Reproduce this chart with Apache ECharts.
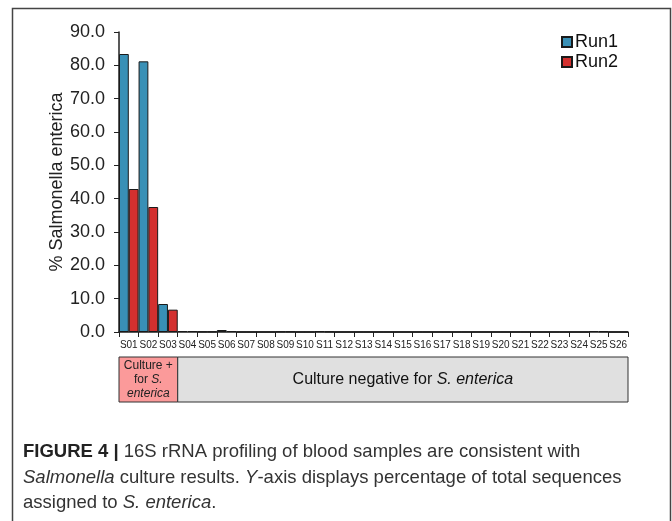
<!DOCTYPE html>
<html>
<head>
<meta charset="utf-8">
<script src="https://cdn.jsdelivr.net/npm/echarts@6/dist/echarts.min.js"></script>
<style>
html,body{margin:0;padding:0;background:#fff;}
#chart{width:672px;height:521px;}
</style>
</head>
<body>
<div id="chart"></div>
<script>
var categories = ['S01','S02','S03','S04','S05','S06','S07','S08','S09','S10','S11','S12','S13','S14','S15','S16','S17','S18','S19','S20','S21','S22','S23','S24','S25','S26'];
var run1 = [83.4, 81.2, 8.4, 0.3, 0.1, 0.6, 0, 0, 0.1, 0, 0.2, 0, 0, 0, 0, 0, 0, 0, 0, 0, 0, 0, 0, 0, 0.3, 0];
var run2 = [42.9, 37.5, 6.7, 0.3, 0.1, 0.3, 0, 0, 0.1, 0, 0.1, 0, 0, 0, 0, 0, 0, 0, 0, 0, 0, 0, 0, 0, 0.2, 0];
var yTicks = [0, 10, 20, 30, 40, 50, 60, 70, 80, 90];
var seriesNames = ['Run1', 'Run2'];
var positiveCount = 3;

var FONT = '"Liberation Sans", Arial, Helvetica, sans-serif';
var chart = echarts.init(document.getElementById('chart'), null, {renderer: 'canvas'});

var option = {
  backgroundColor: '#ffffff',
  animation: false,
  textStyle: {fontFamily: FONT},
  grid: {left: 119, right: 44, top: 32, bottom: 189, containLabel: false},
  legend: {
    orient: 'vertical',
    left: 556, top: 28,
    itemWidth: 10, itemHeight: 10, itemGap: 2,
    icon: 'rect',
    textStyle: {fontSize: 18, color: '#111', fontFamily: FONT, padding: [0,0,0,-2]},
    data: seriesNames
  },
  xAxis: {
    type: 'category',
    data: categories,
    axisLine: {lineStyle: {color: '#222', width: 1.5}},
    axisTick: {show: true, length: 5, lineStyle: {color: '#222'}},
    axisLabel: {interval: 0, fontSize: 10, color: '#222', margin: 8, fontFamily: FONT},
    splitLine: {show: false}
  },
  yAxis: {
    type: 'value',
    min: yTicks[0], max: yTicks[yTicks.length - 1], interval: 10,
    name: '% Salmonella enterica',
    nameLocation: 'middle',
    nameGap: 53,
    nameMoveOverlap: false,
    nameTextStyle: {fontSize: 18, color: '#222', fontFamily: FONT},
    axisLine: {show: true, lineStyle: {color: '#222', width: 1.5}},
    axisTick: {show: true, length: 5, lineStyle: {color: '#222'}},
    axisLabel: {fontSize: 18, color: '#222', margin: 14, fontFamily: FONT,
      formatter: function (v) { return v.toFixed(1); }},
    splitLine: {show: false}
  },
  series: [
    {name: seriesNames[0], type: 'bar', data: run1, barGap: '0%', barCategoryGap: '0%',
     itemStyle: {color: '#3990b6', borderColor: '#1a1a1a', borderWidth: 1}},
    {name: seriesNames[1], type: 'bar', data: run2, barGap: '0%', barCategoryGap: '0%',
     itemStyle: {color: '#d3302f', borderColor: '#1a1a1a', borderWidth: 1}}
  ]
};
chart.setOption(option);

function px(cat) { return chart.convertToPixel({xAxisIndex: 0}, cat); }
var band = px(categories[1]) - px(categories[0]);
var xStart = px(categories[0]) - band / 2;
var xMid = px(categories[positiveCount - 1]) + band / 2;
var xEnd = px(categories[categories.length - 1]) + band / 2;
var boxTop = 357, boxH = 45;
var CAP = 18.5;

chart.setOption({
  graphic: [
    {type: 'rect', shape: {x: 12.5, y: 8.5, width: 658, height: 530},
     style: {fill: 'none', stroke: '#444', lineWidth: 1.5}, silent: true},
    {type: 'rect', shape: {x: xStart, y: boxTop, width: xMid - xStart, height: boxH},
     style: {fill: '#fb9a9a', stroke: '#333', lineWidth: 1}},
    {type: 'rect', shape: {x: xMid, y: boxTop, width: xEnd - xMid, height: boxH},
     style: {fill: '#e0e0e0', stroke: '#333', lineWidth: 1}},
    {type: 'text', x: (xStart + xMid) / 2, y: boxTop + boxH / 2,
     style: {text: 'Culture +\nfor {i|S.}\n{i|enterica}', textAlign: 'center', textVerticalAlign: 'middle',
       fontSize: 12, lineHeight: 14, fill: '#222', fontFamily: FONT,
       rich: {i: {fontStyle: 'italic', fontSize: 12, fontFamily: FONT, fill: '#222'}}}},
    {type: 'text', x: (xMid + xEnd) / 2, y: boxTop + boxH / 2,
     style: {text: 'Culture negative for {i|S. enterica}', textAlign: 'center', textVerticalAlign: 'middle',
       fontSize: 16, fill: '#111', fontFamily: FONT,
       rich: {i: {fontStyle: 'italic', fontSize: 16, fontFamily: FONT, fill: '#111'}}}},
    {type: 'text', x: 23, y: 452,
     style: {text: '{b|FIGURE 4 |} 16S rRNA profiling of blood samples are consistent with',
       textVerticalAlign: 'middle', fontSize: CAP, fill: '#333', fontFamily: FONT,
       rich: {b: {fontWeight: 'bold', fontSize: CAP, fontFamily: FONT, fill: '#222'}}}},
    {type: 'text', x: 23, y: 478,
     style: {text: '{i|Salmonella} culture results. {i|Y}-axis displays percentage of total sequences',
       textVerticalAlign: 'middle', fontSize: CAP, fill: '#333', fontFamily: FONT,
       rich: {i: {fontStyle: 'italic', fontSize: CAP, fontFamily: FONT, fill: '#333'}}}},
    {type: 'text', x: 23, y: 503,
     style: {text: 'assigned to {i|S. enterica}.',
       textVerticalAlign: 'middle', fontSize: CAP, fill: '#333', fontFamily: FONT,
       rich: {i: {fontStyle: 'italic', fontSize: CAP, fontFamily: FONT, fill: '#333'}}}}
  ]
});
</script>
</body>
</html>
